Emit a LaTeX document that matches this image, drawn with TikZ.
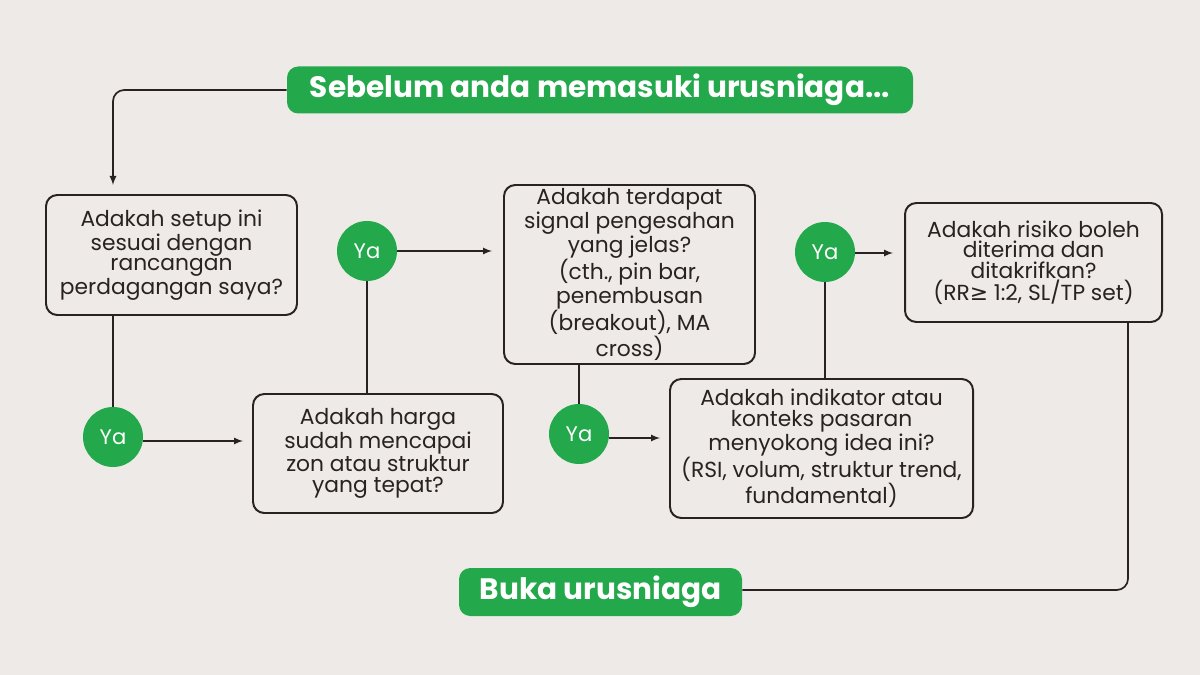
\documentclass[tikz,border=0pt]{standalone}
\usepackage{fontspec}
\setmainfont{Poppins}
\newfontfamily\djvfont{DejaVu Sans}
\definecolor{bg}{HTML}{EEEAE7}
\definecolor{grn}{HTML}{23A94B}
\definecolor{ink}{HTML}{2A2222}
\begin{document}
\begin{tikzpicture}[x=0.025cm,y=-0.025cm,
  qbox/.style={draw=ink,line width=1.4pt,rounded corners=8pt,align=center,text=ink,
    font=\fontsize{15.5}{14.6}\selectfont,inner sep=0pt},
  yes/.style={circle,fill=grn,text=white,minimum size=60*0.025cm,inner sep=0pt,font=\fontsize{15}{16}\selectfont},
  gbox/.style={fill=grn,text=white,rounded corners=8pt,font=\bfseries\fontsize{21}{24}\selectfont,inner sep=0pt},
  ln/.style={draw=ink,line width=1.2pt},
  arr/.style={ln,-latex}]
\fill[bg] (0,0) rectangle (1200,675);
\useasboundingbox (0,0) rectangle (1200,675);
\node[gbox,minimum width=626*0.025cm,minimum height=47*0.025cm] (t) at (600,90) {Sebelum anda memasuki urusniaga...};
\node[gbox,minimum width=283*0.025cm,minimum height=48*0.025cm] (b) at (600.5,592) {Buka urusniaga};
\node[qbox,minimum width=251*0.025cm,minimum height=120*0.025cm] (q1) at (171.5,255) {Adakah setup ini\\sesuai dengan\\rancangan\\perdagangan saya?};
\node[qbox,minimum width=250*0.025cm,minimum height=119*0.025cm] (q2) at (378,453.5) {Adakah harga\\sudah mencapai\\zon atau struktur\\yang tepat?};
\node[qbox,minimum width=251*0.025cm,minimum height=179*0.025cm] (q3) at (629.5,274.5) {Adakah terdapat\\signal pengesahan\\yang jelas?\\(cth., pin bar,\\penembusan\\(breakout), MA\\cross)};
\node[qbox,minimum width=303*0.025cm,minimum height=139*0.025cm] (q4) at (821.5,448.5) {Adakah indikator atau\\konteks pasaran\\menyokong idea ini?\\(RSI, volum, struktur trend,\\fundamental)};
\node[qbox,minimum width=257*0.025cm,minimum height=119*0.025cm] (q5) at (1033.5,262.5) {Adakah risiko boleh\\diterima dan\\ditakrifkan?\\(RR{\djvfont≥} 1:2, SL/TP set)};
\node[yes] (y1) at (113,437) {Ya};
\node[yes] (y2) at (367,251) {Ya};
\node[yes] (y3) at (579,434) {Ya};
\node[yes] (y4) at (825,252) {Ya};
\coordinate (a1) at (243,441);
\coordinate (a2) at (492,251);
\coordinate (a3) at (660,438);
\coordinate (a4) at (893,253);
\draw[arr,rounded corners=8pt] (t.west) -- (113,90) -- (113,185);
\draw[ln] (q1.south -| y1) -- (y1);
\draw[arr] (y1.east |- a1) -- (a1);
\draw[ln] (q2.north -| y2) -- (y2);
\draw[arr] (y2) -- (a2);
\draw[ln] (q3.south -| y3) -- (y3);
\draw[arr] (y3.east |- a3) -- (a3);
\draw[ln] (q4.north -| y4) -- (y4);
\draw[arr] (y4.east |- a4) -- (a4);
\draw[ln,rounded corners=8pt] (1128,322) -- (1128,590) -- (b.east |- 0,590);
\end{tikzpicture}
\end{document}
